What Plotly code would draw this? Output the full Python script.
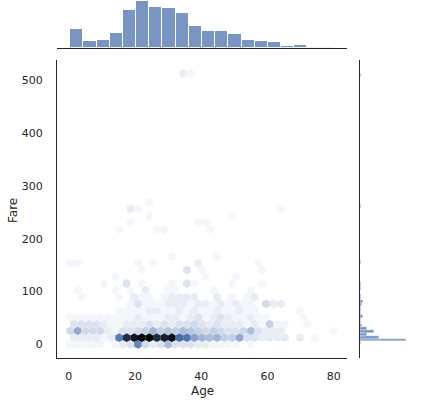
import colorsys
import plotly.graph_objects as go

# ---- data ----
# Age / Fare extents of the data (hexbin grid and histograms use them)
age_min, age_max = 0.42, 80.0
fare_min, fare_max = 0.0, 512.33
gridsize = 35

# top margin: Age histogram, 20 bins between age_min and age_max
age_counts = [40, 14, 15, 31, 79, 98, 85, 84, 73, 45,
              35, 35, 29, 16, 13, 11, 4, 5, 1, 1]

# right margin: Fare histogram, 91 bins between fare_min and fare_max (non-empty bins only)
fare_bins = [0, 1, 2, 3, 4, 5, 6, 7, 8, 9, 10, 11, 12, 13, 14, 15, 16, 17, 18,
             19, 20, 21, 23, 24, 26, 27, 29, 37, 39, 40, 43, 46, 90]
fare_counts = [7, 250, 104, 38, 77, 37, 13, 4, 4, 14, 8, 4, 3, 12, 14, 5, 5, 1, 3,
               3, 4, 2, 1, 2, 2, 4, 2, 2, 1, 1, 1, 6, 3]

# hexbin counts, first lattice (rows at fare = j*sy), 36 columns
row_a0 = [1, 1, 1, 1, 1, 0, 1, 2, 3, 13, 4, 2, 3, 7, 3, 3, 3, 2, 2, 1, 1, 1, 1, 0, 1, 0, 0, 0, 0, 0, 0, 0, 0, 0, 0, 0]
row_a1 = [4, 9, 4, 4, 4, 2, 1, 3, 3, 4, 5, 8, 5, 6, 5, 7, 6, 5, 4, 5, 4, 3, 3, 4, 7, 3, 2, 2, 2, 0, 0, 0, 0, 0, 0, 1]
row_a2 = [1, 1, 1, 1, 1, 1, 1, 1, 1, 2, 1, 1, 1, 2, 2, 1, 2, 3, 1, 2, 3, 2, 1, 1, 2, 1, 1, 0, 0, 0, 0, 1, 0, 0, 0, 0]
row_a3 = [0, 0, 0, 0, 0, 0, 0, 0, 1, 3, 1, 1, 1, 2, 2, 2, 1, 2, 2, 1, 2, 1, 2, 1, 1, 0, 4, 2, 2, 0, 0, 0, 0, 0, 0, 0]
row_a4 = [0, 1, 0, 0, 0, 0, 1, 0, 1, 0, 2, 0, 0, 1, 1, 0, 0, 0, 0, 1, 0, 0, 0, 0, 1, 0, 0, 0, 0, 0, 0, 0, 0, 0, 0, 0]
# second lattice (rows at fare = (j+0.5)*sy), 35 columns
row_b0 = [2, 2, 2, 2, 1, 2, 14, 24, 27, 30, 30, 24, 26, 29, 16, 15, 10, 8, 7, 8, 5, 5, 9, 3, 3, 2, 2, 2, 2, 0, 2, 0, 1, 0, 0]
row_b1 = [3, 3, 3, 3, 2, 1, 1, 2, 2, 2, 3, 2, 3, 2, 3, 3, 4, 3, 2, 3, 2, 2, 2, 1, 2, 1, 5, 1, 1, 0, 0, 1, 0, 0, 0]
row_b2 = [0, 0, 0, 0, 0, 0, 1, 1, 1, 1, 2, 2, 1, 1, 2, 1, 2, 1, 1, 2, 1, 1, 2, 1, 1, 0, 0, 0, 0, 0, 1, 0, 0, 0, 0]
row_b3 = [0, 1, 0, 0, 0, 0, 1, 0, 2, 1, 1, 0, 1, 2, 2, 2, 2, 0, 0, 2, 0, 1, 0, 1, 2, 0, 0, 0, 0, 0, 0, 0, 0, 0, 0]
# sparse upper rows: (lattice, row, {column: count})
upper_rows = [
    ("b", 4, {4: 1, 7: 3, 9: 1, 13: 1, 15: 3, 16: 1, 21: 1, 25: 1}),
    ("a", 5, {6: 1, 18: 1, 22: 1}),
    ("b", 5, {9: 1, 15: 3, 17: 1, 25: 1}),
    ("a", 6, {0: 1, 1: 1, 9: 1, 11: 1, 17: 2, 25: 1}),
    ("b", 6, {13: 1, 19: 1}),
    ("b", 8, {6: 1, 11: 1, 12: 1, 18: 1}),
    ("a", 9, {8: 1, 17: 1, 18: 1}),
    ("b", 9, {10: 1, 21: 1}),
    ("a", 10, {8: 2, 9: 1, 28: 1}),
    ("b", 10, {10: 1}),
    ("a", 20, {15: 2, 16: 1}),
]

# ---- hex grid (same layout as matplotlib hexbin) ----
ny = int(gridsize / 3 ** 0.5)
sx = (age_max - age_min) / gridsize
sy = (fare_max - fare_min) / ny

rows = [("a", 0, row_a0), ("a", 1, row_a1), ("a", 2, row_a2), ("a", 3, row_a3), ("a", 4, row_a4),
        ("b", 0, row_b0), ("b", 1, row_b1), ("b", 2, row_b2), ("b", 3, row_b3)]
for lat, j, d in upper_rows:
    rows.append((lat, j, [d.get(i, 0) for i in range(36 if lat == "a" else 35)]))

hx, hy, hc = [], [], []
for lat, j, counts in rows:
    off = 0.0 if lat == "a" else 0.5
    for i, c in enumerate(counts):
        if c > 0:
            hx.append(age_min + (i + off) * sx)
            hy.append(fare_min + (j + off) * sy)
            hc.append(c)

# seaborn-style colormap: lightness from 1 to 0 with the hue of C0
h, l, s = colorsys.rgb_to_hls(0x4c / 255, 0x72 / 255, 0xb0 / 255)
cscale = []
for k in range(12):
    r, g, b = colorsys.hls_to_rgb(h, 1 - k / 11, s)
    cscale.append([k / 11, "rgb(%d,%d,%d)" % (round(r * 255), round(g * 255), round(b * 255))])

bar_color = "rgba(76,114,176,0.75)"
ink = "#262626"

age_w = (age_max - age_min) / len(age_counts)
age_centers = [age_min + (k + 0.5) * age_w for k in range(len(age_counts))]
fare_w = (fare_max - fare_min) / 91
fare_centers = [fare_min + (k + 0.5) * fare_w for k in fare_bins]

fig = go.Figure()
fig.add_trace(go.Scatter(
    x=hx, y=hy, mode="markers", xaxis="x", yaxis="y",
    marker=dict(symbol="hexagon", size=8.8, color=hc, colorscale=cscale,
                cmin=0, cmax=max(hc), line=dict(width=0), showscale=False),
    hoverinfo="skip"))
fig.add_trace(go.Bar(
    x=age_centers, y=age_counts, width=age_w, xaxis="x2", yaxis="y2",
    marker=dict(color=bar_color, line=dict(color="white", width=1))))
fig.add_trace(go.Bar(
    y=fare_centers, x=fare_counts, width=fare_w, orientation="h", xaxis="x3", yaxis="y3",
    marker=dict(color=bar_color, line=dict(color="white", width=0.4))))

W, H = 423, 412
left, right, top, bottom = 57, 347, 60, 358
xr = [age_min - 0.05 * (age_max - age_min), age_max + 0.05 * (age_max - age_min)]
yr = [fare_min - 0.05 * (fare_max - fare_min), fare_max + 0.05 * (fare_max - fare_min)]
xdom = [left / W, right / W]
ydom = [(H - bottom) / H, (H - top) / H]
tickfont = dict(family="DejaVu Sans", size=11, color=ink)

fig.update_layout(
    width=W, height=H, margin=dict(l=0, r=0, t=0, b=0),
    paper_bgcolor="white", plot_bgcolor="white", showlegend=False, bargap=0,
    font=dict(family="DejaVu Sans", color=ink),
    xaxis=dict(domain=xdom, range=xr, tickvals=[0, 20, 40, 60, 80], showgrid=False, zeroline=False,
               showline=True, linecolor=ink, linewidth=1.25, ticks="outside", ticklen=8,
               tickcolor="rgba(0,0,0,0)", tickfont=tickfont, anchor="y"),
    yaxis=dict(domain=ydom, range=yr, tickvals=[0, 100, 200, 300, 400, 500], showgrid=False,
               zeroline=False, showline=True, linecolor=ink, linewidth=1.25, ticks="outside",
               ticklen=11, tickcolor="rgba(0,0,0,0)", tickfont=tickfont, anchor="x"),
    xaxis2=dict(domain=xdom, range=xr, showticklabels=False, showgrid=False, zeroline=False,
                showline=True, linecolor=ink, linewidth=1.25, anchor="y2"),
    yaxis2=dict(domain=[(H - 47.5) / H, 1], range=[0, 98 * 47.5 / 46.5], visible=False, anchor="x2"),
    xaxis3=dict(domain=[360 / W, 1], range=[0, 250 * 63 / 45.7], visible=False, anchor="y3"),
    yaxis3=dict(domain=ydom, range=yr, showticklabels=False, showgrid=False, zeroline=False,
                showline=True, linecolor=ink, linewidth=1.25, anchor="x3"),
    annotations=[
        dict(text="Age", x=(left + right) / 2 / W, y=(H - 391) / H, xref="paper", yref="paper",
             showarrow=False, font=dict(size=12, color=ink), xanchor="center", yanchor="middle"),
        dict(text="Fare", x=13 / W, y=(H - 211) / H, xref="paper", yref="paper", textangle=-90,
             showarrow=False, font=dict(size=12, color=ink), xanchor="center", yanchor="middle"),
    ],
)

# the page body has a default 8px margin; drop it so the figure sits at the window corner
fig.write_html("out.html", config={"displayModeBar": False},
               post_script="document.body.style.margin='0';")
